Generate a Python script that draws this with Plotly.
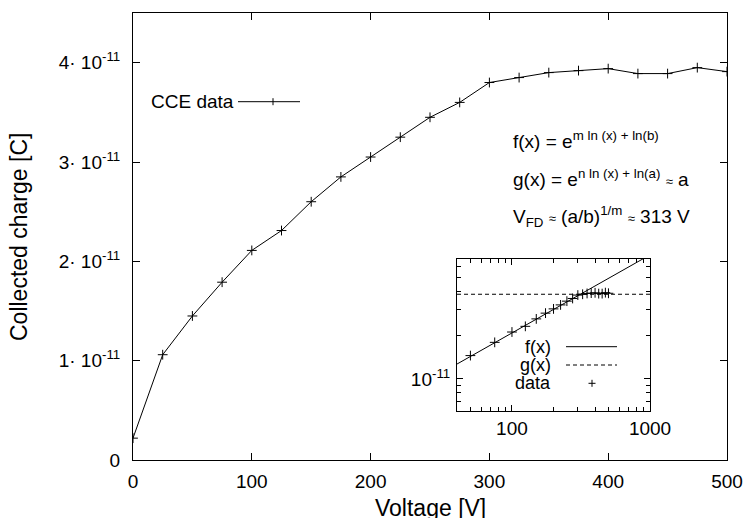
import math
import plotly.graph_objects as go

# ---- data ----
voltage = [0, 25, 50, 75, 100, 125, 150, 175, 200, 225, 250, 275, 300,
           325, 350, 375, 400, 425, 450, 475, 500]
charge_e11 = [0.22, 1.06, 1.45, 1.79, 2.11, 2.31, 2.60, 2.85, 3.05, 3.25, 3.45,
              3.60, 3.80, 3.85, 3.90, 3.92, 3.94, 3.89, 3.89, 3.95, 3.91]
SCALE = 1e-11
charge = [c * SCALE for c in charge_e11]

main_xticks = [0, 100, 200, 300, 400, 500]
main_yticks_e11 = [0, 1, 2, 3, 4]
main_ytext = ["0", "1· 10<sup>-11</sup>", "2· 10<sup>-11</sup>",
              "3· 10<sup>-11</sup>", "4· 10<sup>-11</sup>"]

# fit parameters (from the annotation): f(x) = b x^m, g(x) ~ a, V_FD = (a/b)^(1/m)
FIT_A = 3.85e-11
FIT_M = 0.54
V_FD = 313.0
FIT_B = FIT_A / V_FD ** FIT_M
fit_x = [40, 1000]

inset_xmajor = [100, 1000]
inset_xminor = [40, 50, 60, 70, 80, 90, 200, 300, 400, 500, 600, 700, 800, 900]
inset_ymajor = [1e-11]
inset_yminor = [6e-12, 7e-12, 8e-12, 9e-12, 2e-11, 3e-11, 4e-11, 5e-11, 6e-11]

FONT = "Liberation Sans, Arial, sans-serif"

fig = go.Figure()
fig.add_trace(go.Scatter(
    x=voltage, y=charge, mode="lines+markers",
    line=dict(color="black", width=1),
    marker=dict(symbol="cross-thin", size=7, line=dict(color="black", width=1)),
    showlegend=False, xaxis="x", yaxis="y"))

# inset traces
f_y = [FIT_B * x ** FIT_M for x in fit_x]
g_y = [FIT_A for _ in fit_x]
fig.add_trace(go.Scatter(x=fit_x, y=f_y, mode="lines", line=dict(color="black", width=1),
                         showlegend=False, xaxis="x2", yaxis="y2"))
fig.add_trace(go.Scatter(x=fit_x, y=g_y, mode="lines",
                         line=dict(color="black", width=1, dash="4px,3px"),
                         showlegend=False, xaxis="x2", yaxis="y2"))
ins_v = [v for v in voltage if v > 0]
ins_c = [c for v, c in zip(voltage, charge) if v > 0]
fig.add_trace(go.Scatter(x=ins_v, y=ins_c, mode="markers",
                         marker=dict(symbol="cross-thin", size=7, line=dict(color="black", width=1)),
                         showlegend=False, xaxis="x2", yaxis="y2"))

axis_common = dict(showline=True, linecolor="black", linewidth=1, mirror="ticks",
                   ticks="inside", tickcolor="black", showgrid=False, zeroline=False,
                   automargin=False,
                   tickfont=dict(family=FONT, size=19, color="black"))

fig.update_layout(
    width=745, height=518,
    margin=dict(l=133, r=18, t=13, b=58, autoexpand=False),
    paper_bgcolor="white", plot_bgcolor="white",
    font=dict(family=FONT, size=19, color="black"),
    xaxis=dict(range=[0, 500], tickmode="array", tickvals=main_xticks,
               ticklen=7, ticklabelstandoff=4, domain=[0, 1], **axis_common),
    yaxis=dict(range=[0, 4.5e-11], tickmode="array",
               tickvals=[v * SCALE for v in main_yticks_e11], ticktext=main_ytext,
               ticklen=7, ticklabelstandoff=8, domain=[0, 1], **axis_common),
    xaxis2=dict(type="log", range=[math.log10(40), 3], domain=[0.5455, 0.8704],
                anchor="y2", tickmode="array", tickvals=inset_xmajor,
                ticktext=["100", "1000"], ticklen=6,
                minor=dict(tickmode="array", tickvals=inset_xminor, ticklen=4,
                           ticks="inside", tickcolor="black"),
                **axis_common),
    yaxis2=dict(type="log", range=[math.log10(6e-12), math.log10(6.75e-11)],
                domain=[0.1096, 0.4497], anchor="x2", tickmode="array",
                tickvals=inset_ymajor, ticktext=["10<sup>-11</sup>"], ticklen=6,
                ticklabelstandoff=2,
                minor=dict(tickmode="array", tickvals=inset_yminor, ticklen=4,
                           ticks="inside", tickcolor="black"),
                **axis_common),
)

def px(xp):
    return (xp - 133) / 594.0

def py(yp):
    return (460 - yp) / 447.0

ann = []
# axis titles
ann.append(dict(text="Voltage [V]", x=px(430), y=py(508), xref="paper", yref="paper",
                showarrow=False, font=dict(size=23), xanchor="center", yanchor="middle"))
ann.append(dict(text="Collected charge [C]", x=px(19), y=py(237), xref="paper", yref="paper",
                showarrow=False, font=dict(size=23), textangle=-90,
                xanchor="center", yanchor="middle"))
# main legend
ann.append(dict(text="CCE data", x=px(236), y=py(101.7), xref="paper", yref="paper",
                showarrow=False, xanchor="right", yanchor="middle"))
# formulas
approx = '<span style="font-size:13px">≈</span>'
ann.append(dict(text="f(x) = e<sup>m ln (x) + ln(b)</sup>", x=px(511), y=py(140),
                xref="paper", yref="paper", showarrow=False, xanchor="left", yanchor="middle"))
ann.append(dict(text="g(x) = e<sup>n ln (x) + ln(a)</sup> " + approx + " a", x=px(511), y=py(178),
                xref="paper", yref="paper", showarrow=False, xanchor="left", yanchor="middle"))
ann.append(dict(text="V<sub>FD</sub> " + approx + " (a/b)<sup>1/m</sup> " + approx + " 313 V",
                x=px(511), y=py(216), xref="paper", yref="paper", showarrow=False,
                xanchor="left", yanchor="middle"))
# inset legend
for label, ypix in [("f(x)", 346.7), ("g(x)", 365.0), ("data", 383.3)]:
    ann.append(dict(text=label, x=px(553), y=py(ypix), xref="paper", yref="paper",
                    showarrow=False, xanchor="right", yanchor="middle", font=dict(size=18)))
fig.update_layout(annotations=ann)

shapes = []
# main legend sample: line + cross
shapes.append(dict(type="line", xref="paper", yref="paper", x0=px(238), x1=px(300),
                   y0=py(101.7), y1=py(101.7), line=dict(color="black", width=1)))
shapes.append(dict(type="line", xref="paper", yref="paper", x0=px(273), x1=px(273),
                   y0=py(98.2), y1=py(105.2), line=dict(color="black", width=1)))
# inset legend samples
shapes.append(dict(type="line", xref="paper", yref="paper", x0=px(566), x1=px(617),
                   y0=py(346.7), y1=py(346.7), line=dict(color="black", width=1)))
shapes.append(dict(type="line", xref="paper", yref="paper", x0=px(566), x1=px(617),
                   y0=py(365), y1=py(365), line=dict(color="black", width=1, dash="4px,3px")))
shapes.append(dict(type="line", xref="paper", yref="paper", x0=px(588.5), x1=px(595.5),
                   y0=py(383.3), y1=py(383.3), line=dict(color="black", width=1)))
shapes.append(dict(type="line", xref="paper", yref="paper", x0=px(592), x1=px(592),
                   y0=py(379.8), y1=py(386.8), line=dict(color="black", width=1)))
fig.update_layout(shapes=shapes)

fig.write_html("out.html", config={"displayModeBar": False},
               post_script="document.body.style.margin='0px';document.body.style.overflow='hidden';")
